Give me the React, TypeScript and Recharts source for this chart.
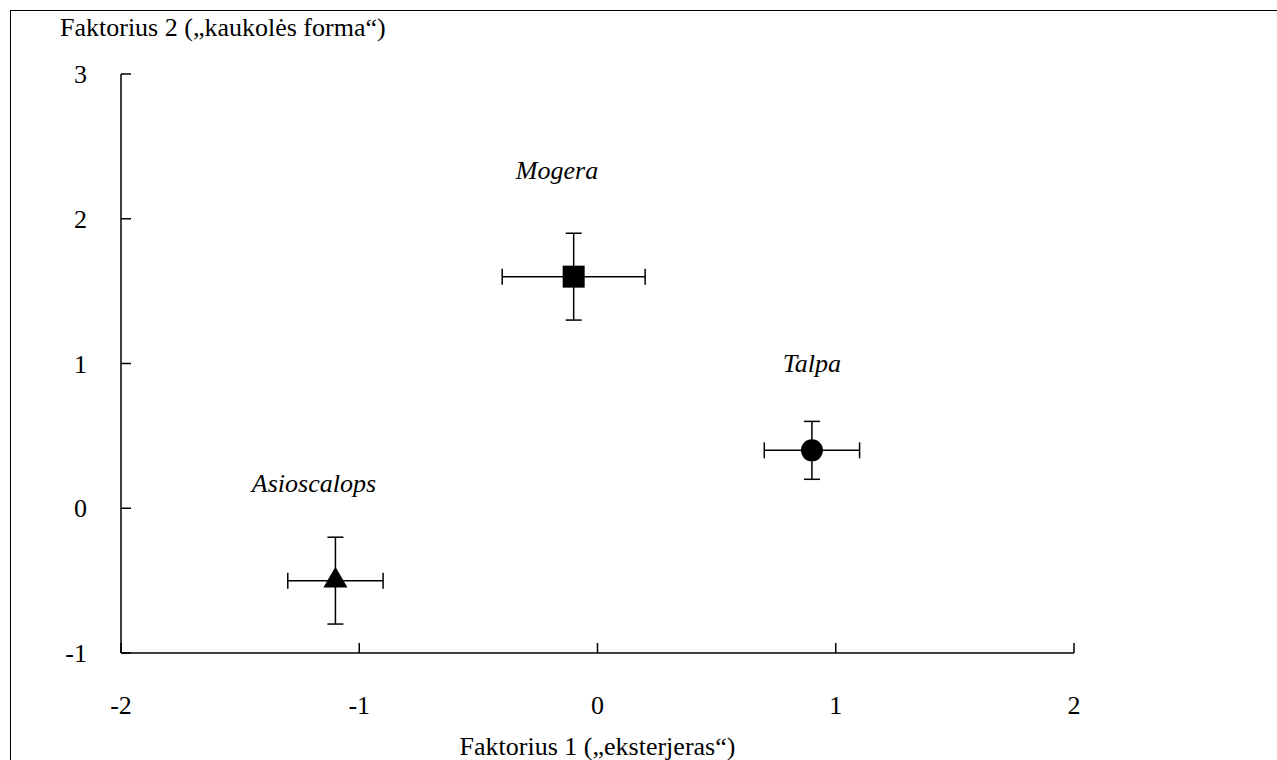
import React from 'react';
import {
  ScatterChart, Scatter, XAxis, YAxis, ErrorBar, ReferenceDot, Label, Symbols,
} from 'recharts';

// species means on the two factors, with their error ranges
const species = ['Mogera', 'Talpa', 'Asioscalops'];
const factor1 = [-0.1, 0.9, -1.1];
const factor2 = [1.6, 0.4, -0.5];
const err1 = [0.3, 0.2, 0.2];
const err2 = [0.3, 0.2, 0.3];
const markers = ['square', 'circle', 'triangle'];
const markerSize = [484, 380, 250];

// where the italic species names sit (data units)
const nameX = [-0.17, 0.9, -1.19];
const nameY = [2.33, 1.0, 0.17];

const xTicks = [-2, -1, 0, 1, 2];
const yTicks = [-1, 0, 1, 2, 3];

const font = 'Liberation Serif, Tinos, DejaVu Serif, serif';
const FS = 26;
const tick = { fill: '#000', fontSize: FS, fontFamily: font };
const line = { stroke: '#000', strokeWidth: 1.5 };

const W = 1277, H = 760;

const YTitle = ({ viewBox }: any) => (
  <text x={viewBox.x - 1} y={viewBox.y - 38} fill="#000" fontSize={FS} style={{ fontFamily: font }}>
    Faktorius 2 („kaukolės forma“)
  </text>
);

const XTitle = ({ viewBox }: any) => (
  <text x={viewBox.x + viewBox.width / 2} y={viewBox.y + 102} textAnchor="middle"
    fill="#000" fontSize={FS} style={{ fontFamily: font }}>
    Faktorius 1 („eksterjeras“)
  </text>
);

const speciesName = (name: string) => ({ viewBox }: any) => (
  <text x={viewBox.x + viewBox.width / 2} y={viewBox.y + viewBox.height / 2}
    textAnchor="middle" dominantBaseline="central" fill="#000"
    fontSize={FS} fontStyle="italic" style={{ fontFamily: font }}>
    {name}
  </text>
);

const marker = (type: any, size: number) => (p: any) => (
  <Symbols cx={p.cx} cy={p.cy} type={type} size={size} fill="#000" stroke="none" />
);

export default function App() {
  const series = species.map((s, i) => ({
    name: s,
    shape: marker(markers[i], markerSize[i]),
    data: [{ x: factor1[i], y: factor2[i], ex: err1[i], ey: err2[i] }],
  }));

  return (
    <div style={{ position: 'fixed', left: 0, top: 0, width: W, height: H, overflow: 'hidden', background: '#fff', fontFamily: font }}>
      {/* frame: only top and left edges fall inside the picture */}
      <div style={{ position: 'absolute', left: 10, top: 10, width: W + 40, height: H + 40, border: '1px solid #000' }} />
      <div style={{ position: 'absolute', left: 0, top: 0 }}>
        <ScatterChart width={W} height={H} margin={{ top: 74, right: 203, bottom: 47, left: 61 }}>
          <XAxis type="number" dataKey="x" domain={[-2, 2]} ticks={xTicks} allowDataOverflow
            height={60} tick={tick} axisLine={line} tickLine={line} tickSize={-10} tickMargin={53}>
            <Label content={XTitle} />
          </XAxis>
          <YAxis type="number" dataKey="y" domain={[-1, 3]} ticks={yTicks} allowDataOverflow
            width={60} tick={tick} axisLine={line} tickLine={line} tickSize={-10} tickMargin={44}>
            <Label content={YTitle} />
          </YAxis>
          {series.map(s => (
            <Scatter key={s.name} name={s.name} data={s.data}
              shape={s.shape} fill="#000" isAnimationActive={false}>
              <ErrorBar dataKey="ex" direction="x" width={8} stroke="#000" strokeWidth={1.5} isAnimationActive={false} />
              <ErrorBar dataKey="ey" direction="y" width={8} stroke="#000" strokeWidth={1.5} isAnimationActive={false} />
            </Scatter>
          ))}
          {species.map((s, i) => (
            <ReferenceDot key={'n' + i} x={nameX[i]} y={nameY[i]} r={0} fill="none" stroke="none"
              label={speciesName(s)} />
          ))}
        </ScatterChart>
      </div>
    </div>
  );
}
